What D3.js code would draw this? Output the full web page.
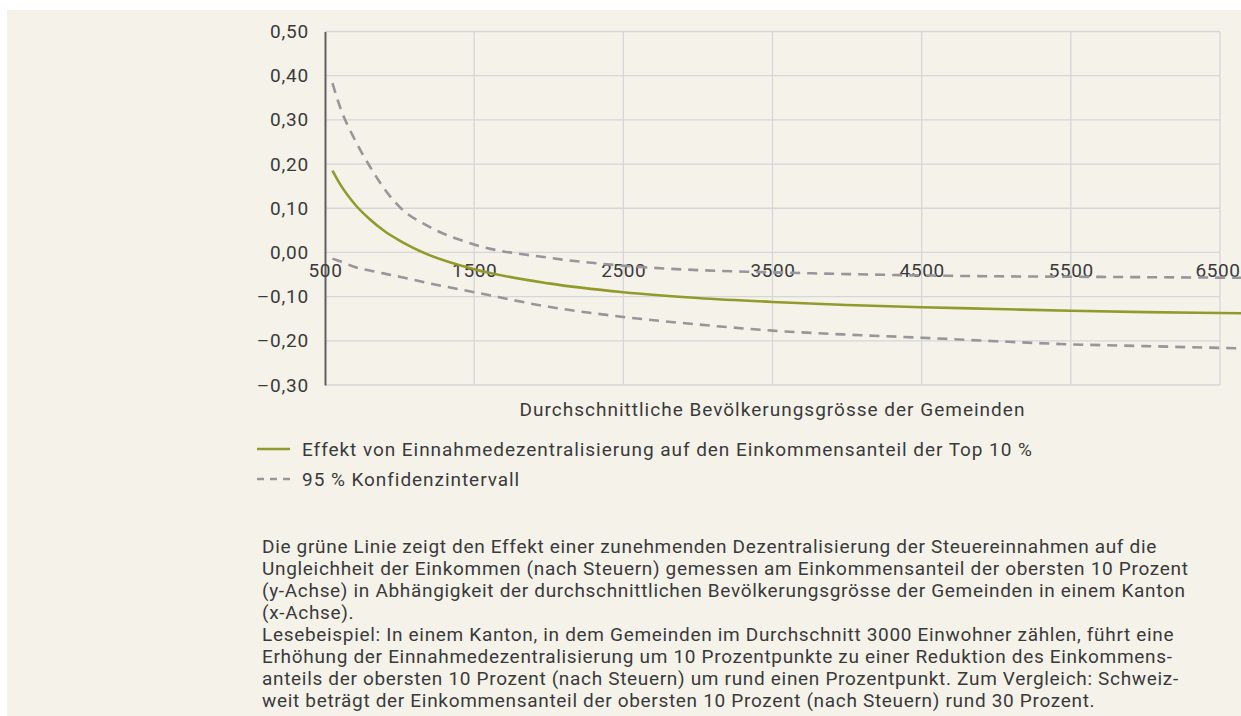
<!DOCTYPE html>
<html>
<head>
<meta charset="utf-8">
<script src="https://cdn.jsdelivr.net/npm/d3@7"></script>
<style>
  body { margin: 0; background: #ffffff; }
  text { font-family: Roboto, "Open Sans", sans-serif; fill: #3a3a3a; }
</style>
</head>
<body>
<div id="mainDiv"></div>
<script>
// population sizes (x) and effect estimates
var sizes    = [550, 600, 700, 800, 900, 1000, 1200, 1500, 2000, 2500, 3000, 3500, 4000, 4500, 5000, 5500, 6000, 6500, 7000];
var effect   = [0.185, 0.155, 0.109, 0.075, 0.048, 0.027, -0.006, -0.038, -0.070, -0.090, -0.103, -0.112, -0.119, -0.124, -0.128, -0.132, -0.135, -0.137, -0.139];
var ciUpper  = [0.383, 0.330, 0.255, 0.195, 0.143, 0.103, 0.058, 0.018, -0.012, -0.030, -0.040, -0.045, -0.049, -0.052, -0.054, -0.055, -0.056, -0.057, -0.058];
var ciLower  = [-0.014, -0.020, -0.033, -0.041, -0.048, -0.055, -0.070, -0.090, -0.123, -0.146, -0.163, -0.177, -0.186, -0.193, -0.201, -0.208, -0.212, -0.216, -0.219];

var xTicks = [500, 1500, 2500, 3500, 4500, 5500, 6500];
var yTicks = [0.5, 0.4, 0.3, 0.2, 0.1, 0, -0.1, -0.2, -0.3];

var xTitle = "Durchschnittliche Bevölkerungsgrösse der Gemeinden";
var legendLabels = ["Effekt von Einnahmedezentralisierung auf den Einkommensanteil der Top 10 %", "95 % Konfidenzintervall"];
var noteLines = [
  "Die grüne Linie zeigt den Effekt einer zunehmenden Dezentralisierung der Steuereinnahmen auf die",
  "Ungleichheit der Einkommen (nach Steuern) gemessen am Einkommensanteil der obersten 10 Prozent",
  "(y-Achse) in Abhängigkeit der durchschnittlichen Bevölkerungsgrösse der Gemeinden in einem Kanton",
  "(x-Achse).",
  "Lesebeispiel: In einem Kanton, in dem Gemeinden im Durchschnitt 3000 Einwohner zählen, führt eine",
  "Erhöhung der Einnahmedezentralisierung um 10 Prozentpunkte zu einer Reduktion des Einkommens-",
  "anteils der obersten 10 Prozent (nach Steuern) um rund einen Prozentpunkt. Zum Vergleich: Schweiz-",
  "weit beträgt der Einkommensanteil der obersten 10 Prozent (nach Steuern) rund 30 Prozent."
];

var green = "#939a2c", grey = "#96969b", gridCol = "#d6d6d9";
var fontSize = "19px";

var svg = d3.select("#mainDiv").append("svg")
  .attr("width", 1241)
  .attr("height", 716);

svg.append("rect")
  .attr("x", 7).attr("y", 10)
  .attr("width", 1234).attr("height", 706)
  .attr("fill", "#f5f2ea");

var x = d3.scaleLinear().domain([500, 6500]).range([325, 1220]);
var y = d3.scaleLinear().domain([-0.3, 0.5]).range([385, 31.5]);

// grid
var grid = svg.append("g");
grid.selectAll(".hg").data(yTicks).enter().append("line")
  .attr("x1", x(500)).attr("x2", x(6500))
  .attr("y1", function(d){ return y(d); }).attr("y2", function(d){ return y(d); })
  .attr("stroke", gridCol).attr("stroke-width", 1.3);
grid.selectAll(".vg").data(xTicks.slice(1)).enter().append("line")
  .attr("x1", function(d){ return x(d); }).attr("x2", function(d){ return x(d); })
  .attr("y1", y(0.5)).attr("y2", y(-0.3))
  .attr("stroke", gridCol).attr("stroke-width", 1.3);

// y axis
var fmt = function(d){ return d3.format(".2f")(d).replace(".", ",").replace("−", "–").replace("-", "–"); };
var yAxis = svg.append("g")
  .attr("transform", "translate(" + x(500) + ",0)")
  .call(d3.axisLeft(y).tickValues(yTicks).tickSize(0).tickPadding(16).tickFormat(fmt));
yAxis.select(".domain").attr("stroke", "#5f5f5f").attr("stroke-width", 2);
yAxis.selectAll("text").attr("font-size", fontSize).attr("letter-spacing", "0.8px")
  .attr("fill", "#3a3a3a").attr("font-family", "Roboto");

// x axis labels sit on the zero line
var xAxis = svg.append("g")
  .attr("transform", "translate(0," + y(0) + ")")
  .call(d3.axisBottom(x).tickValues(xTicks).tickSize(0).tickPadding(11).tickFormat(d3.format("d")));
xAxis.select(".domain").remove();
xAxis.selectAll("text").attr("font-size", fontSize).attr("letter-spacing", "0.6px")
  .attr("fill", "#3a3a3a").attr("font-family", "Roboto");
// last label hugs the right edge like in the original
xAxis.selectAll(".tick").filter(function(d){ return d === 6500; }).select("text")
  .attr("text-anchor", "end").attr("x", 1240 - x(6500));

// lines
var line = d3.line()
  .x(function(d){ return x(d[0]); })
  .y(function(d){ return y(d[1]); })
  .curve(d3.curveMonotoneX);

svg.append("path").datum(d3.zip(sizes, ciUpper))
  .attr("d", line).attr("fill", "none")
  .attr("stroke", grey).attr("stroke-width", 2.6).attr("stroke-dasharray", "10,7");
svg.append("path").datum(d3.zip(sizes, ciLower))
  .attr("d", line).attr("fill", "none")
  .attr("stroke", grey).attr("stroke-width", 2.6).attr("stroke-dasharray", "10,7");
svg.append("path").datum(d3.zip(sizes, effect))
  .attr("d", line).attr("fill", "none")
  .attr("stroke", green).attr("stroke-width", 2.6);

// x title
svg.append("text")
  .attr("x", (x(500) + x(6500)) / 2).attr("y", 416)
  .attr("text-anchor", "middle").attr("font-size", fontSize).attr("letter-spacing", "1px")
  .text(xTitle);

// legend
svg.append("line").attr("x1", 257).attr("x2", 290).attr("y1", 449).attr("y2", 449)
  .attr("stroke", green).attr("stroke-width", 2.6);
svg.append("line").attr("x1", 257).attr("x2", 290).attr("y1", 479).attr("y2", 479)
  .attr("stroke", grey).attr("stroke-width", 2.6).attr("stroke-dasharray", "7,6");
svg.selectAll(".leg").data(legendLabels).enter().append("text")
  .attr("x", 302).attr("y", function(d, i){ return 456 + i * 30; })
  .attr("font-size", fontSize).attr("letter-spacing", "0.95px")
  .text(function(d){ return d; });

// note text
svg.selectAll(".note").data(noteLines).enter().append("text")
  .attr("x", 262).attr("y", function(d, i){ return 553 + i * 22; })
  .attr("font-size", fontSize).attr("letter-spacing", "0.68px")
  .text(function(d){ return d; });
</script>
</body>
</html>
